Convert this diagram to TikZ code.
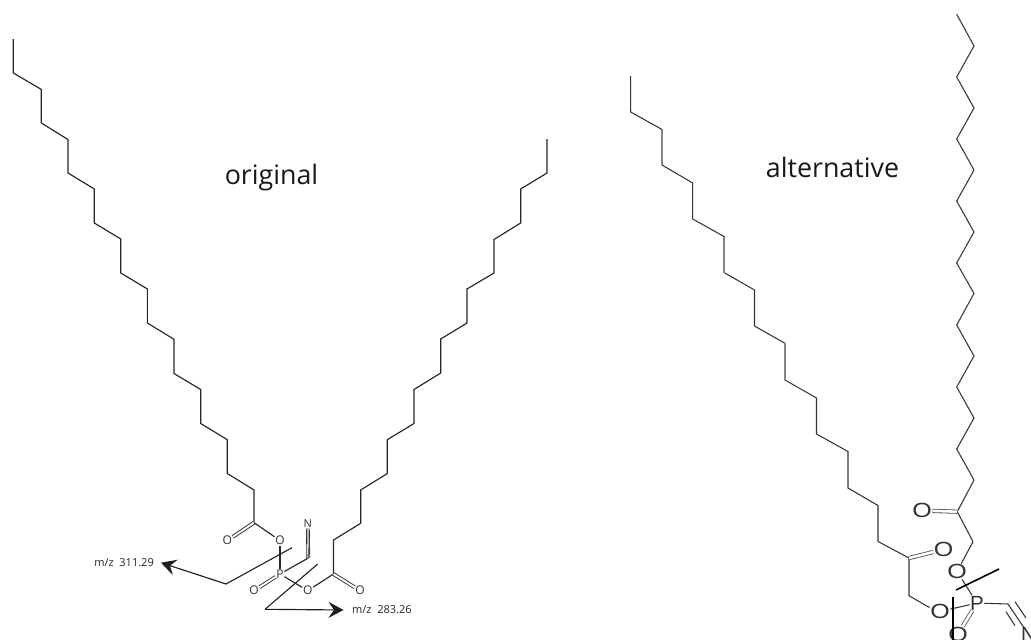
\documentclass[tikz,border=0pt]{standalone}
\usepackage{fontspec}
\setmainfont{Open Sans}
\newfontfamily\rightfont{Liberation Sans}
\usetikzlibrary{arrows.meta}
\tikzset{
  bond/.style={draw=black!85,line width=1.15pt,line join=miter},
  dbl/.style={draw=black!85,line width=0.85pt,double=white,double distance=2pt},
  altbond/.style={draw=black!80,line width=1.05pt,line join=miter},
  altgrey/.style={draw=black!48,line width=1.6pt},
  altdbl/.style={draw=black!70,line width=0.8pt,double=white,double distance=2.6pt},
  zig/.style={draw=black!75,line width=1.15pt,dash pattern=on 1.3pt off 0.25pt,line join=miter},
  cut/.style={draw=black!88,line width=1.15pt,-{Stealth[length=15pt,width=16pt,inset=5.5pt]}},
  thickcut/.style={draw=black,line width=1.6pt},
  atom/.style={inner sep=0.6pt,font=\fontsize{12}{12}\selectfont,text=black!80},
  bigatom/.style={inner sep=0.4pt,font=\rightfont\fontsize{20.5}{20.5}\selectfont,text=black!80},
  mz/.style={inner sep=0pt,font=\fontsize{11}{12}\selectfont,text=black!85},
  title/.style={inner sep=0pt,anchor=base,font=\fontsize{26.8}{30}\selectfont,text=black!90}
}
\begin{document}
\begin{tikzpicture}[x=1pt,y=-1pt]
\useasboundingbox (0,0) rectangle (1031,640);
\clip (0,0) rectangle (1031,640);
\fill[white] (0,0) rectangle (1031,640);

% titles
\node[title] (torig) at (271.5,184) {original};
\node[title] (talt) at (832.5,177) {alternative};

% ---------- left molecule ----------
\foreach \n/\x/\y in {1/13.3/39,2/13.3/73,3/41.3/89.4,4/41.3/123,5/68/139.5,6/68/173,7/94.3/189,8/94.3/223,
  9/120.8/239,10/120.8/273,11/147.4/289,12/147.4/323,13/174/339.3,14/174/373.5,15/200.7/389.5,16/200.7/423.5,
  17/227.3/439.7,18/227.3/473.5,19/254/490,20/254/522.7}
  \coordinate (L\n) at (\x,\y);
\draw[bond] (L1) \foreach \i in {2,...,20}{ -- (L\i)};

\foreach \n/\x/\y in {1/547/139,2/547/173,3/520.7/189,4/520.7/223,5/494/239.5,6/494/273,7/467/289,8/467/323,
  9/440.7/339,10/440.7/373,11/414/389.5,12/414/423.5,13/387.3/439.7,14/387.3/473.5,15/360.7/490,16/360.7/523.3,
  17/333.5/540,18/333.5/574}
  \coordinate (R\n) at (\x,\y);
\draw[bond] (R1) \foreach \i in {2,...,18}{ -- (R\i)};

\node[atom] (Oa) at (227.3,540.5) {O};
\node[atom] (Ob) at (280,540.5) {O};
\node[atom] (P) at (280,574) {P};
\node[atom] (Oc) at (254,590.7) {O};
\node[atom] (Od) at (307.7,590.7) {O};
\node[atom] (Oe) at (360,590.7) {O};
\node[atom,font=\fontsize{11}{11}\selectfont] (N) at (307.8,524) {N};
\coordinate (CN) at (308.3,558);
\draw[dbl] (L20) -- (Oa);
\draw[bond] (L20) -- (Ob);
\draw[bond] (Ob) -- (P);
\draw[dbl] (P) -- (Oc);
\draw[bond] (P) -- (Od);
\draw[bond] (Od) -- (R18);
\draw[dbl] (R18) -- (Oe);
\draw[bond] (P) -- (CN);
\draw[dbl] (CN) -- (N);
\draw[draw=black!85,line width=0.7pt] (CN) -- (N);

% fragmentation arrows
\coordinate (k1s) at (292,547.7);
\coordinate (k1) at (226,584);
\coordinate (t1) at (161,562.7);
\coordinate (k2s) at (317.7,564);
\coordinate (k2) at (265,609.3);
\coordinate (t2) at (343.5,610);
\draw[bond] (k1s) -- (k1);
\draw[cut] (k1) -- (t1);
\draw[bond] (k2s) -- (k2);
\draw[cut] (k2) -- (t2);
\node[mz,anchor=east] (m1) at (154,563) {m/z\ \ 311.29};
\node[mz,anchor=west] (m2) at (352,610) {m/z\ \ 283.26};

% ---------- right molecule ----------
\foreach \n/\x/\y in {1/630.7/76,2/630.7/112,3/662/129.5,4/662/165,5/692.7/183,6/692.7/219,7/724/236.5,8/724/272.5,
  9/754.5/290,10/754.5/326,11/785/343.3,12/785/380,13/816.5/398,14/816.5/434,15/848/451.5,16/848/488,
  17/878/505.5,18/878/541.5,19/909/558,20/909/595.7,21/928/606.7}
  \coordinate (A\n) at (\x,\y);
\draw[altbond] (A1) \foreach \i in {2,...,21}{ -- (A\i)};
\draw[altgrey] (A3) -- (A4);
\draw[altgrey] (A7) -- (A8);
\draw[altgrey] (A11) -- (A12);

\foreach \n/\x/\y in {1/956.7/14.3,2/974/46,3/956.7/77,4/974/108,5/956.7/139,6/974/170,7/956.7/201,8/974/232,
  9/956.7/263,10/974/293.5,11/956.7/325,12/974/356,13/956.7/387,14/974/418,15/956.7/449,16/974/480,17/957.3/511.7}
  \coordinate (Z\n) at (\x,\y);
\draw[zig] (Z1) \foreach \i in {2,...,17}{ -- (Z\i)};

\node[bigatom] (O1) at (922,510.5) {\scalebox{1.22}[1]{O}};
\node[bigatom] (O2) at (943.5,549.5) {\scalebox{1.22}[1]{O}};
\node[bigatom] (O3) at (957,571.5) {\scalebox{1.22}[1]{O}};
\node[bigatom] (O4) at (940,611.5) {\scalebox{1.22}[1]{O}};
\node[bigatom] (O5) at (958,634) {\scalebox{1.22}[1]{O}};
\node[bigatom] (P2) at (977,603) {P};
\node[bigatom] (N2) at (1028.5,634.5) {N};
\coordinate (C1) at (973,541.7);
\coordinate (CN2) at (1008,604);
\coordinate (tA1) at (1015,601.7);
\coordinate (tA2) at (1026,618);
\coordinate (tB1) at (1006,611.7);
\coordinate (tB2) at (1015,625.7);
\draw[altdbl] (Z17) -- (O1);
\draw[altbond] (Z17) -- (C1);
\draw[altbond] (C1) -- (O3);
\draw[altdbl] (A19) -- (O2);
\draw[altbond] (A21) -- (O4);
\draw[altbond] (O3) -- (P2);
\draw[altbond] (O4) -- (P2);
\draw[altdbl] (P2) -- (O5);
\draw[altbond] (P2) -- (CN2);
\draw[altbond] (CN2) -- (N2);
\draw[altbond] (tA1) -- (tA2);
\draw[altbond] (tB1) -- (tB2);

\coordinate (b1s) at (956,590);
\coordinate (b1e) at (999,569);
\coordinate (b2s) at (953,597);
\coordinate (b2e) at (953,640);
\draw[thickcut] (b1s) -- (b1e);
\draw[thickcut] (b2s) -- (b2e);
\end{tikzpicture}
\end{document}
